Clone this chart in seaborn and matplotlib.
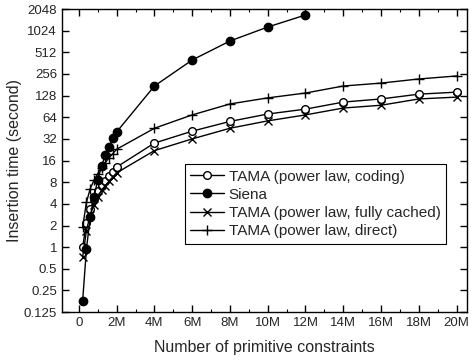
import numpy as np
import pandas as pd
import matplotlib
matplotlib.use("Agg")
import matplotlib.pyplot as plt
from matplotlib.ticker import FixedLocator, MultipleLocator, LogLocator, NullFormatter
import seaborn as sns

# x positions in millions of primitive constraints
x_small = [0.2, 0.4, 0.6, 0.8, 1.0, 1.2, 1.4, 1.6, 1.8, 2.0]
x_large = [4, 6, 8, 10, 12, 14, 16, 18, 20]
x_siena = x_small + [4, 6, 8, 10, 12]
x_tama = x_small + x_large

tama_coding = [1.0, 2.2, 3.4, 4.6, 6.0, 7.2, 8.4, 9.8, 11.2, 13,
               28, 41, 56, 71, 83, 104, 115, 134, 143]
siena = [0.18, 0.94, 2.6, 5.0, 8.6, 13.4, 19, 24.6, 33, 40,
         174, 400, 735, 1150, 1690]
tama_cached = [0.73, 1.7, 2.8, 3.9, 5.0, 6.2, 7.2, 8.3, 9.5, 10.8,
               22, 32, 45, 57, 69, 86, 94, 115, 122]
tama_direct = [1.9, 4.2, 6.5, 8.5, 10.5, 12.8, 15, 17.5, 20, 23,
               45, 69, 98, 119, 139, 174, 191, 218, 240]

series = [
    ("TAMA (power law, coding)", x_tama, tama_coding, dict(marker="o", mfc="white", ms=5.5)),
    ("Siena", x_siena, siena, dict(marker="o", mfc="black", ms=6)),
    ("TAMA (power law, fully cached)", x_tama, tama_cached, dict(marker="x", ms=5.5)),
    ("TAMA (power law, direct)", x_tama, tama_direct, dict(marker="+", ms=7)),
]

y_ticks = [2.0 ** k for k in range(-3, 12)]
x_ticks = list(range(0, 21, 2))
x_labels = ["0"] + ["%dM" % v for v in x_ticks[1:]]

sns.set_style("ticks")
plt.rcParams["font.family"] = ["Liberation Sans", "DejaVu Sans"]

fig = plt.figure(figsize=(4.76, 3.6), dpi=100)
ax = fig.add_axes([0.130, 0.133, 0.851, 0.842])

for name, xs, ys, style in series:
    df = pd.DataFrame({"x": xs, "y": ys})
    sns.lineplot(data=df, x="x", y="y", ax=ax, color="black", lw=1,
                 mec="black", mew=1, label=name, **style)

ax.set_yscale("log", base=2)
ax.set_ylim(0.125, 2048)
ax.set_xlim(-0.9, 20.55)
ax.yaxis.set_major_locator(FixedLocator(y_ticks))
ax.set_yticklabels(["%g" % v for v in y_ticks])
ax.yaxis.set_minor_locator(LogLocator(base=2, subs=np.arange(1.125, 2, 0.125)))
ax.yaxis.set_minor_formatter(NullFormatter())
ax.xaxis.set_major_locator(FixedLocator(x_ticks))
ax.set_xticklabels(x_labels)
ax.xaxis.set_minor_locator(MultipleLocator(1))

ax.tick_params(which="both", direction="in", top=True, right=True, labelsize=9.5, color="black")
ax.tick_params(which="major", length=5, width=1)
ax.tick_params(which="minor", length=2.5, width=0.8)
for s in ax.spines.values():
    s.set_color("black")
    s.set_linewidth(1)

ax.set_xlabel("Number of primitive constraints", fontsize=11.5, labelpad=8)
ax.set_ylabel("Insertion time (second)", fontsize=11.5, labelpad=1)

leg = ax.legend(loc="upper left", bbox_to_anchor=(0.304, 0.488), fontsize=11,
                frameon=True, fancybox=False, framealpha=1, edgecolor="black",
                borderpad=0.35, labelspacing=0.28, handlelength=2.2,
                handletextpad=0.3, borderaxespad=0)
leg.get_frame().set_linewidth(0.8)

fig.savefig("out.png", dpi=100)
